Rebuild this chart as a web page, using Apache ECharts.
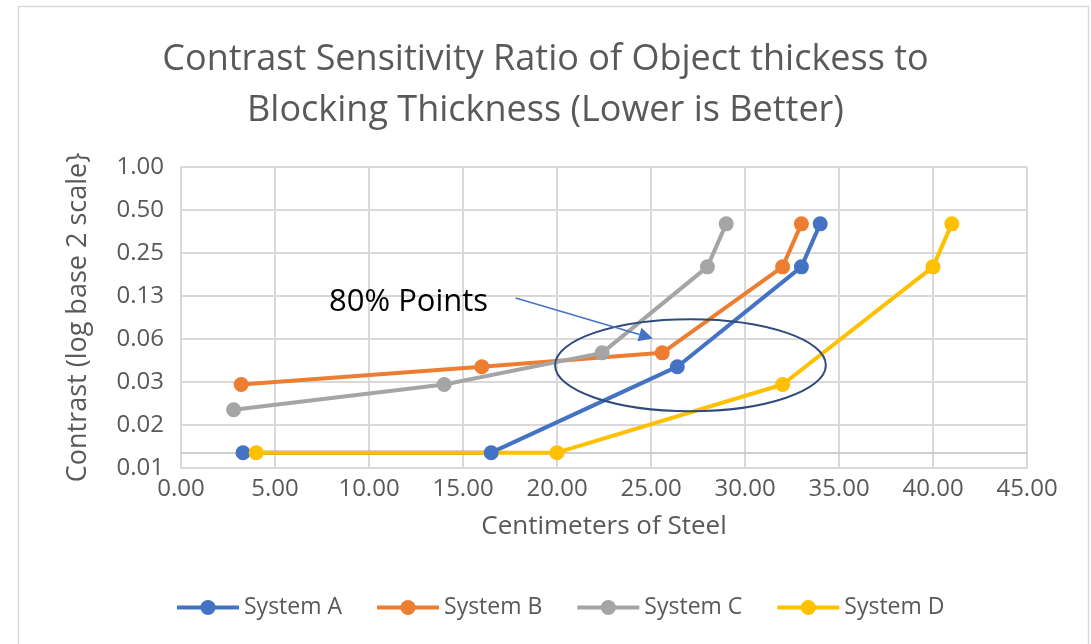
<!DOCTYPE html>
<html>
<head>
<meta charset="utf-8">
<script src="https://cdn.jsdelivr.net/npm/echarts@6/dist/echarts.min.js"></script>
<style>
  html, body { margin: 0; padding: 0; background: #ffffff; }
  #chart { width: 1091px; height: 644px; }
</style>
</head>
<body>
<div id="chart"></div>
<script>
// Steel thickness (cm) and contrast for each system
const systemAX = [3.3, 16.5, 26.4, 33.0, 34.0];
const systemAY = [0.01, 0.01, 0.04, 0.2, 0.4];
const systemBX = [3.2, 16.0, 25.6, 32.0, 33.0];
const systemBY = [0.03, 0.04, 0.05, 0.2, 0.4];
const systemCX = [2.8, 14.0, 22.4, 28.0, 29.0];
const systemCY = [0.02, 0.03, 0.05, 0.2, 0.4];
const systemDX = [4.0, 20.0, 32.0, 40.0, 41.0];
const systemDY = [0.01, 0.01, 0.03, 0.2, 0.4];

const seriesNames = ['System A', 'System B', 'System C', 'System D'];
const seriesColors = ['#4472C4', '#ED7D31', '#A5A5A5', '#FFC000'];

// y axis: powers of two from 2^-7 to 2^0, labelled with two decimals
const yTickLabels = ['0.01', '0.02', '0.03', '0.06', '0.13', '0.25', '0.50', '1.00'];
const yMin = Math.pow(2, -7);
const yMax = 1;
const xMin = 0, xMax = 45, xStep = 5;
// horizontal axis crosses the value axis here
const xAxisCross = 0.01;

// "80% Points" callout: ellipse centre and half-extents in data units
const calloutCenter = [27.1, 0.041];
const calloutHalfWidth = 7.2;
const calloutLogHalfHeight = 1.07; // in log2 units
const arrowTail = [17.8, 0.121];
const arrowTip = [25.1, 0.063];

const font = '"Open Sans", "Noto Sans", sans-serif';
const textGrey = '#595959';

function pairs(xs, ys) { return xs.map((x, i) => [x, ys[i]]); }
const dataSets = [
  pairs(systemAX, systemAY),
  pairs(systemBX, systemBY),
  pairs(systemCX, systemCY),
  pairs(systemDX, systemDY)
];

const chart = echarts.init(document.getElementById('chart'), null, { renderer: 'canvas' });

const series = dataSets.map((d, i) => ({
  name: seriesNames[i],
  type: 'line',
  data: d,
  symbol: 'circle',
  symbolSize: 15,
  color: seriesColors[i],
  lineStyle: { width: 4, color: seriesColors[i] },
  itemStyle: { color: seriesColors[i] },
  z: 3
}));

// horizontal axis line drawn at its crossing value
series[0].markLine = {
  silent: true,
  symbol: 'none',
  label: { show: false },
  lineStyle: { color: '#bfbfbf', width: 1.5, type: 'solid' },
  data: [{ yAxis: xAxisCross }],
  z: 1
};

chart.setOption({
  animation: false,
  backgroundColor: '#ffffff',
  title: {
    text: 'Contrast Sensitivity Ratio of Object thickess to\nBlocking Thickness (Lower is Better)',
    left: 'center',
    top: 29,
    textStyle: { fontFamily: font, fontSize: 36, fontWeight: 'normal', color: textGrey, lineHeight: 51 }
  },
  legend: {
    bottom: 20,
    left: 170,
    itemWidth: 62,
    itemHeight: 19,
    itemGap: 33,
    lineStyle: { width: 4 },
    textStyle: { fontFamily: font, fontSize: 23, color: textGrey },
    data: seriesNames
  },
  grid: { left: 181, right: 64, top: 167, bottom: 176 },
  xAxis: {
    type: 'value',
    min: xMin, max: xMax, interval: xStep,
    name: 'Centimeters of Steel',
    nameLocation: 'middle',
    nameGap: 46,
    nameTextStyle: { fontFamily: font, fontSize: 26, color: textGrey },
    axisLine: { show: true, lineStyle: { color: '#d9d9d9', width: 1.5 } },
    axisTick: { show: false },
    axisLabel: { fontFamily: font, fontSize: 24, color: textGrey, margin: 9,
      formatter: v => v.toFixed(2) },
    splitLine: { show: true, lineStyle: { color: '#d9d9d9', width: 2 } }
  },
  yAxis: {
    type: 'log',
    logBase: 2,
    min: yMin, max: yMax,
    name: 'Contrast (log base 2 scale}',
    nameLocation: 'middle',
    nameGap: 89,
    nameTextStyle: { fontFamily: font, fontSize: 27, color: textGrey },
    axisLine: { show: true, lineStyle: { color: '#d9d9d9', width: 1.5 } },
    axisTick: { show: false },
    axisLabel: { fontFamily: font, fontSize: 24, color: textGrey, margin: 17,
      formatter: (v, i) => yTickLabels[i] !== undefined ? yTickLabels[i] : v.toFixed(2) },
    splitLine: { show: true, lineStyle: { color: '#d9d9d9', width: 2 } }
  },
  series: series
});

// Callout: ellipse round the 80% points, label and arrow
function drawCallout() {
  const ly = Math.log2(calloutCenter[1]);
  const c = chart.convertToPixel({ gridIndex: 0 }, calloutCenter);
  const r = chart.convertToPixel({ gridIndex: 0 }, [calloutCenter[0] + calloutHalfWidth, calloutCenter[1]]);
  const t = chart.convertToPixel({ gridIndex: 0 }, [calloutCenter[0], Math.pow(2, ly + calloutLogHalfHeight)]);
  const rx = r[0] - c[0];
  const ry = c[1] - t[1];
  const tip = chart.convertToPixel({ gridIndex: 0 }, arrowTip);
  const tail = chart.convertToPixel({ gridIndex: 0 }, arrowTail);
  const dx = tip[0] - tail[0], dy = tip[1] - tail[1];
  const len = Math.sqrt(dx * dx + dy * dy);
  const ux = dx / len, uy = dy / len;
  const head = 14, hw = 7;
  const bx = tip[0] - ux * head, by = tip[1] - uy * head;

  chart.setOption({
    graphic: [
      {
        type: 'rect', silent: true, z: -10,
        shape: { x: 18.5, y: 6.5, width: 1070, height: 660 },
        style: { fill: 'none', stroke: '#d9d9d9', lineWidth: 1.5 }
      },
      {
        type: 'ellipse', silent: true, z: 10,
        shape: { cx: c[0], cy: c[1], rx: rx, ry: ry },
        style: { fill: 'none', stroke: '#2F4B7C', lineWidth: 2 }
      },
      {
        type: 'text', silent: true, z: 10,
        style: { text: '80% Points', x: 329, y: tail[1] + 4, verticalAlign: 'middle',
          font: '31px ' + font, fill: '#000000' }
      },
      {
        type: 'line', silent: true, z: 10,
        shape: { x1: tail[0], y1: tail[1], x2: bx, y2: by },
        style: { stroke: '#4472C4', lineWidth: 1.5 }
      },
      {
        type: 'polygon', silent: true, z: 10,
        shape: { points: [
          [tip[0], tip[1]],
          [bx - uy * hw, by + ux * hw],
          [bx + uy * hw, by - ux * hw]
        ] },
        style: { fill: '#4472C4' }
      }
    ]
  });
}
drawCallout();
</script>
</body>
</html>
